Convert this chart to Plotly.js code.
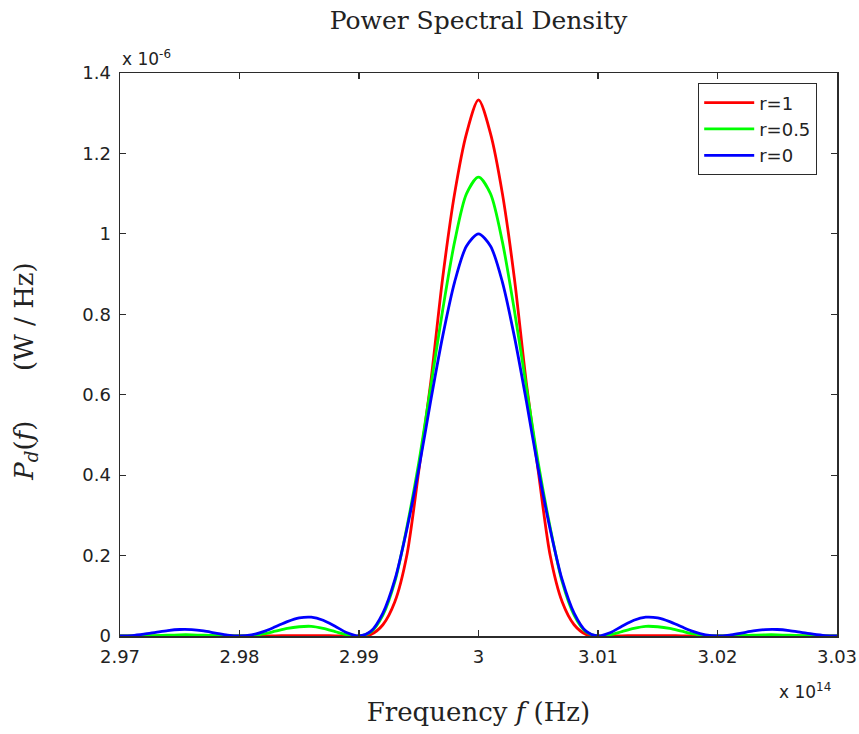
<!DOCTYPE html>
<html>
<head>
<meta charset="utf-8">
<script src="https://cdn.plot.ly/plotly-3.0.1.min.js"></script>
<style>html,body{margin:0;padding:0;background:#fff;}#chart{width:859px;height:734px;}</style>
</head>
<body>
<div id="chart"></div>
<script>
// Frequency (x 10^14 Hz)
const freq = [
  2.970, 2.971, 2.972, 2.973, 2.974, 2.975, 2.976, 2.977, 2.978, 2.979,
  2.980, 2.981, 2.982, 2.983, 2.984, 2.985, 2.986, 2.987, 2.988, 2.989,
  2.990, 2.991, 2.992, 2.993, 2.994, 2.995, 2.996, 2.997, 2.998, 2.999,
  3.000,
  3.001, 3.002, 3.003, 3.004, 3.005, 3.006, 3.007, 3.008, 3.009, 3.010,
  3.011, 3.012, 3.013, 3.014, 3.015, 3.016, 3.017, 3.018, 3.019, 3.020,
  3.021, 3.022, 3.023, 3.024, 3.025, 3.026, 3.027, 3.028, 3.029, 3.030
];
// PSD values (x 10^-6 W/Hz)
const psdR1 = [
  0, 0, 0, 0, 0, 0, 0, 0, 0, 0,
  0, 0, 0.0002, 0.0005, 0.0008, 0.001, 0.001, 0.0008, 0.0004, 0.0001,
  0, 0.004, 0.028, 0.085, 0.20, 0.41, 0.63, 0.89, 1.10, 1.25,
  1.333,
  1.25, 1.10, 0.89, 0.63, 0.41, 0.20, 0.085, 0.028, 0.004, 0,
  0.0001, 0.0004, 0.0008, 0.001, 0.001, 0.0008, 0.0005, 0.0002, 0, 0,
  0, 0, 0, 0, 0, 0, 0, 0, 0, 0
];
const psdR05 = [
  0, 0.0001, 0.0005, 0.001, 0.002, 0.003, 0.003, 0.002, 0.001, 0.0003,
  0, 0.001, 0.005, 0.012, 0.019, 0.023, 0.024, 0.019, 0.011, 0.003,
  0, 0.010, 0.052, 0.135, 0.27, 0.43, 0.62, 0.81, 0.98, 1.10,
  1.141,
  1.10, 0.98, 0.81, 0.62, 0.43, 0.27, 0.135, 0.052, 0.010, 0,
  0.003, 0.011, 0.019, 0.024, 0.023, 0.019, 0.012, 0.005, 0.001, 0,
  0.0003, 0.001, 0.002, 0.003, 0.003, 0.002, 0.001, 0.0005, 0.0001, 0
];
const psdR0 = [
  0, 0.0011, 0.0045, 0.0091, 0.0136, 0.0162, 0.0159, 0.0125, 0.0072, 0.0022,
  0, 0.0027, 0.0108, 0.0229, 0.0358, 0.0450, 0.0468, 0.0392, 0.0243, 0.0080,
  0, 0.012, 0.057, 0.14, 0.265, 0.415, 0.585, 0.745, 0.88, 0.97,
  1.0,
  0.97, 0.88, 0.745, 0.585, 0.415, 0.265, 0.14, 0.057, 0.012, 0,
  0.0080, 0.0243, 0.0392, 0.0468, 0.0450, 0.0358, 0.0229, 0.0108, 0.0027, 0,
  0.0022, 0.0072, 0.0125, 0.0159, 0.0162, 0.0136, 0.0091, 0.0045, 0.0011, 0
];
const seriesNames = ["r=1", "r=0.5", "r=0"];
const xTickVals = [2.97, 2.98, 2.99, 3.00, 3.01, 3.02, 3.03];
const xTickText = ["2.97", "2.98", "2.99", "3", "3.01", "3.02", "3.03"];
const yTickVals = [0, 0.2, 0.4, 0.6, 0.8, 1.0, 1.2, 1.4];
const yTickText = ["0", "0.2", "0.4", "0.6", "0.8", "1", "1.2", "1.4"];

const colors = ["#ff0000", "#00ff00", "#0000ff"];
const ys = [psdR1, psdR05, psdR0];
const traces = ys.map((y, i) => ({
  x: freq, y: y, type: "scatter", mode: "lines", name: seriesNames[i],
  line: {color: colors[i], width: 2.8, shape: "spline", smoothing: 0.8}
}));

const tickFont = {family: "DejaVu Sans, Arial, sans-serif", size: 18, color: "#222"};
const serif = "DejaVu Serif, Times New Roman, serif";
const axisCommon = {
  showgrid: false, zeroline: false, showline: true, mirror: "ticks",
  linecolor: "#2b2b2b", linewidth: 1.5, ticks: "inside", ticklen: 6,
  tickcolor: "#2b2b2b", tickwidth: 1.2, tickfont: tickFont, fixedrange: true
};

const layout = {
  width: 859, height: 734,
  margin: {l: 120, r: 22, t: 73, b: 98},
  paper_bgcolor: "#fff", plot_bgcolor: "#fff",
  showlegend: true,
  title: {text: "Power Spectral Density", font: {family: serif, size: 25, color: "#222"},
          xref: "paper", x: 0.5, xanchor: "center", yref: "container", y: 0.972, yanchor: "middle"},
  xaxis: Object.assign({}, axisCommon, {
    range: [2.97, 3.03], tickmode: "array", tickvals: xTickVals, ticktext: xTickText,
    ticklabelstandoff: 4,
    title: {text: "Frequency <i>f</i> (Hz)", font: {family: serif, size: 26, color: "#222"}, standoff: 36}
  }),
  yaxis: Object.assign({}, axisCommon, {
    range: [0, 1.4], tickmode: "array", tickvals: yTickVals, ticktext: yTickText,
    ticklabelstandoff: 4,
    title: {text: "<i>P</i><sub><i>d</i></sub>(<i>f</i>)&nbsp;&nbsp;&nbsp;&nbsp;&nbsp;&nbsp;(W / Hz)&nbsp;&nbsp;&nbsp;&nbsp;", font: {family: serif, size: 26, color: "#222"}, standoff: 41}
  }),
  legend: {
    x: (698 - 120) / 717, xanchor: "left", y: 0.982, yanchor: "top",
    bgcolor: "#fff", bordercolor: "#2b2b2b", borderwidth: 1.2,
    font: {family: "DejaVu Sans, Arial, sans-serif", size: 18, color: "#222"},
    tracegroupgap: 0, itemwidth: 50, entrywidth: 78, entrywidthmode: "pixels"
  },
  annotations: [
    {text: "x 10<sup>-6</sup>", xref: "paper", yref: "paper", x: 0, y: 1, xanchor: "left", yanchor: "bottom",
     yshift: 2, showarrow: false, font: {family: "DejaVu Sans, Arial, sans-serif", size: 17, color: "#222"}},
    {text: "x 10<sup>14</sup>", xref: "paper", yref: "paper", x: 1, y: 0, xanchor: "right", yanchor: "middle",
     yshift: -55, xshift: -4, showarrow: false, font: {family: "DejaVu Sans, Arial, sans-serif", size: 17, color: "#222"}}
  ]
};

Plotly.newPlot("chart", traces, layout, {displayModeBar: false, staticPlot: true});
</script>
</body>
</html>
